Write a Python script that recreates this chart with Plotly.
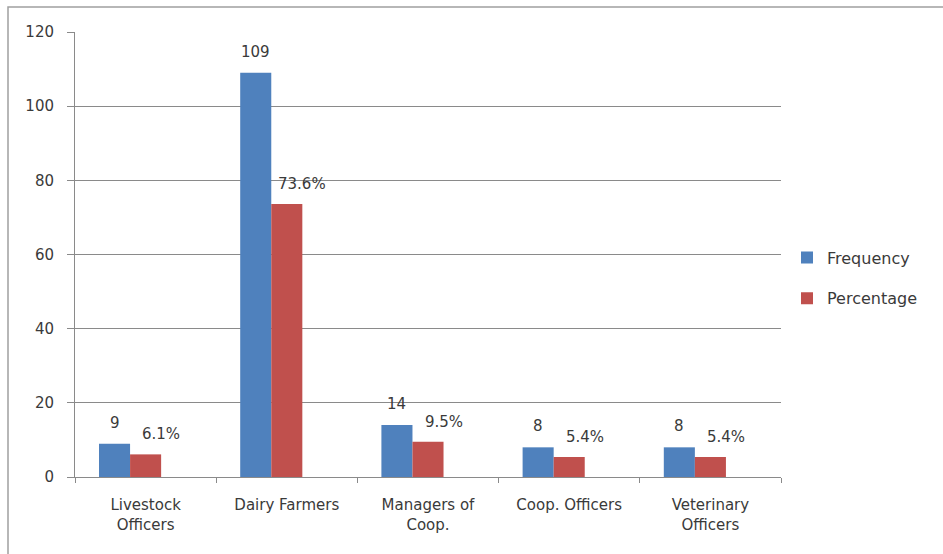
import plotly.graph_objects as go

categories = ["Livestock<br>Officers", "Dairy Farmers", "Managers of<br>Coop.", "Coop. Officers", "Veterinary<br>Officers"]
frequency = [9, 109, 14, 8, 8]
percentage = [6.1, 73.6, 9.5, 5.4, 5.4]
y_ticks = [0, 20, 40, 60, 80, 100, 120]

font_family = "DejaVu Sans, Liberation Sans, sans-serif"
text_color = "#3a3a3a"
blue = "#4F81BD"
red = "#C0504D"

L, R, T, B = 75, 162, 32, 77
W, H = 943, 554
pw, ph = W - L - R, H - T - B
cat_px = pw / len(categories)

BAR_W = 0.22
fig = go.Figure()
fig.add_trace(go.Bar(
    x=categories, y=frequency, name="Frequency", legendgroup="f",
    marker=dict(color=blue, line=dict(width=0)),
    width=BAR_W, offset=-0.33,
))
fig.add_trace(go.Bar(
    x=categories, y=percentage, name="Percentage", legendgroup="p",
    marker=dict(color=red, line=dict(width=0)),
    width=BAR_W, offset=-0.11,
))

# data labels
for c, v in zip(categories, frequency):
    fig.add_annotation(x=c, y=v, text=str(v), showarrow=False,
                       xshift=-0.22 * cat_px, yshift=10, yanchor="bottom",
                       font=dict(size=15, color=text_color))
for c, v in zip(categories, percentage):
    fig.add_annotation(x=c, y=v, text=f"{v}%", showarrow=False,
                       xshift=0.11 * cat_px, yshift=9, yanchor="bottom",
                       font=dict(size=15, color=text_color))

fig.update_layout(
    width=W, height=H,
    margin=dict(l=L, r=R, t=T, b=B),
    paper_bgcolor="white", plot_bgcolor="white",
    barmode="overlay",
    font=dict(family=font_family, size=15, color=text_color),
    showlegend=True,
    legend=dict(x=(787 - L) / pw, y=1 - (278 - T) / ph, yanchor="middle", xanchor="left",
                font=dict(size=16, color=text_color), itemwidth=30,
                traceorder="grouped", tracegroupgap=17,
                bgcolor="rgba(0,0,0,0)"),
    xaxis=dict(showline=True, linecolor="#8a8a8a", linewidth=1,
               ticks="outside", ticklen=5, tickcolor="#8a8a8a",
               tickson="boundaries", showgrid=False,
               ticklabelstandoff=14,
               tickfont=dict(size=15, color=text_color)),
    yaxis=dict(range=[0, 120], tickvals=y_ticks, showline=True,
               linecolor="#8a8a8a", linewidth=1, ticks="outside", ticklen=7,
               tickcolor="#8a8a8a", showgrid=True, gridcolor="#8a8a8a",
               gridwidth=1, zeroline=False, ticklabelstandoff=10,
               tickfont=dict(size=15, color=text_color)),
)

# outer chart border (extends past right and bottom edges as in the reference)
fig.add_shape(type="rect", xref="paper", yref="paper",
              x0=(8 - L) / pw, x1=(960 - L) / pw,
              y0=-(570 - T - ph) / ph, y1=1 + (T - 7) / ph,
              line=dict(color="#a0a0a0", width=1.5), fillcolor="rgba(0,0,0,0)",
              layer="below")

fig.write_html("out.html")
